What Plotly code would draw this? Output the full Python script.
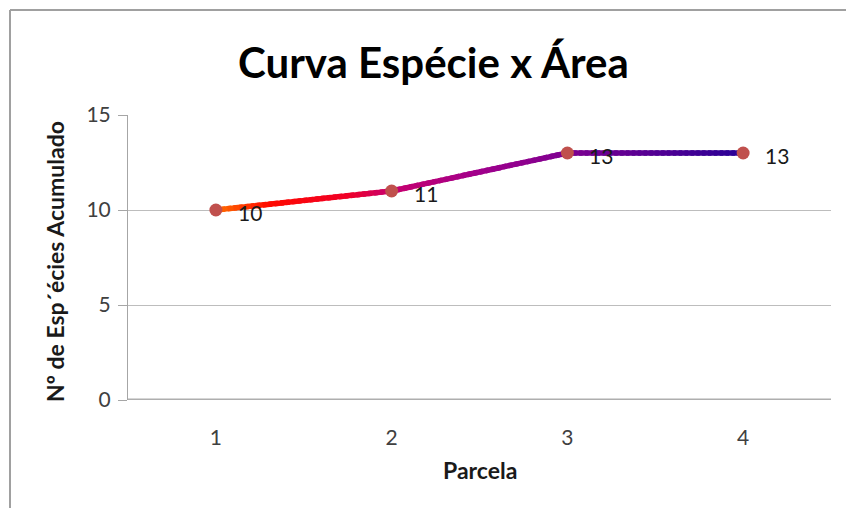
import plotly.graph_objects as go

# Species-area curve data
parcelas = [1, 2, 3, 4]
especies = [10, 11, 13, 13]
y_ticks = [0, 5, 10, 15]

title_text = "Curva Espécie x Área"
x_title = "Parcela"
y_title = "Nº de Esp´écies Acumulado"

# gradient stops along the line (fraction of total length -> colour)
grad_stops = [
    (0.00, (255, 112, 0)),
    (0.10, (255, 10, 0)),
    (0.25, (240, 0, 40)),
    (0.33, (200, 0, 110)),
    (0.50, (160, 0, 140)),
    (0.67, (125, 0, 145)),
    (1.00, (40, 0, 150)),
]


def grad_color(t):
    for (t0, c0), (t1, c1) in zip(grad_stops[:-1], grad_stops[1:]):
        if t0 <= t <= t1:
            f = (t - t0) / (t1 - t0) if t1 > t0 else 0
            r, g, b = (round(a + (b_ - a) * f) for a, b_ in zip(c0, c1))
            return f"rgb({r},{g},{b})"
    r, g, b = grad_stops[-1][1]
    return f"rgb({r},{g},{b})"


W, H = 846, 508
ML, MR, MT, MB = 128, 15, 115, 108
PW, PH = W - ML - MR, H - MT - MB

FONT = "Lato"

fig = go.Figure()

# line drawn as short overlapping pieces so the colour can shift along it
pieces = 30
x0, x1 = parcelas[0], parcelas[-1]
for i in range(len(parcelas) - 1):
    xa, xb = parcelas[i], parcelas[i + 1]
    ya, yb = especies[i], especies[i + 1]
    for k in range(pieces):
        fa, fb = k / pieces, min(1.0, (k + 1.6) / pieces)
        xs = [xa + (xb - xa) * fa, xa + (xb - xa) * fb]
        ys = [ya + (yb - ya) * fa, ya + (yb - ya) * fb]
        t = ((xa + (xb - xa) * (k + 0.5) / pieces) - x0) / (x1 - x0)
        fig.add_trace(go.Scatter(
            x=xs, y=ys, mode="lines",
            line=dict(color=grad_color(t), width=5.5),
            hoverinfo="skip", showlegend=False,
        ))

fig.add_trace(go.Scatter(
    x=parcelas, y=especies, mode="markers",
    marker=dict(color="#C0504D", size=13),
    showlegend=False,
))

# data labels to the right of each point
for xv, yv in zip(parcelas, especies):
    fig.add_annotation(
        x=xv, y=yv, text=str(yv), showarrow=False,
        xanchor="left", yanchor="middle", xshift=20, yshift=-2,
        font=dict(family=FONT, size=21, color="#1a1a1a"),
    )

tick_font = dict(family=FONT, size=21, color="#404040")

fig.update_xaxes(
    range=[0.5, 4.5], tickvals=parcelas, ticktext=[str(p) for p in parcelas],
    showgrid=False, zeroline=False, showline=False, ticks="",
    tickfont=tick_font, ticklabelstandoff=23,
)
fig.update_yaxes(
    range=[0, 15], tickvals=y_ticks, ticktext=[str(v) for v in y_ticks],
    showgrid=True, gridcolor="#BDBDBD", gridwidth=1,
    zeroline=False, showline=True, linecolor="#A6A6A6", linewidth=1,
    ticks="outside", ticklen=9, tickcolor="#A6A6A6",
    tickfont=tick_font, ticklabelstandoff=3,
)

# baseline at zero
fig.add_shape(type="line", xref="paper", yref="y", x0=0, x1=1, y0=0, y1=0,
              line=dict(color="#AEAEAE", width=3), layer="above")

# chart frame (top and left edges)
lx = (10 - ML) / PW
ty = 1 + (MT - 10) / PH
fig.add_shape(type="line", xref="paper", yref="paper",
              x0=lx, x1=(W - ML) / PW, y0=ty, y1=ty,
              line=dict(color="#A0A0A0", width=2))
fig.add_shape(type="line", xref="paper", yref="paper",
              x0=lx, x1=lx, y0=ty, y1=-MB / PH,
              line=dict(color="#A0A0A0", width=2))

# titles
fig.add_annotation(
    xref="paper", yref="paper", x=(433 - ML) / PW, y=1 + (MT - 62) / PH,
    text=f"<b>{title_text}</b>", showarrow=False,
    xanchor="center", yanchor="middle",
    font=dict(family=FONT, size=42, color="#000000"),
)
fig.add_annotation(
    xref="paper", yref="paper", x=(480 - ML) / PW, y=-(470 - MT - PH) / PH,
    text=f"<b>{x_title}</b>", showarrow=False,
    xanchor="center", yanchor="middle",
    font=dict(family=FONT, size=23, color="#1a1a1a"),
)
fig.add_annotation(
    xref="paper", yref="paper", x=(55 - ML) / PW, y=1 - (262 - MT) / PH,
    text=f"<b>{y_title}</b>", showarrow=False, textangle=-90,
    xanchor="center", yanchor="middle",
    font=dict(family=FONT, size=23, color="#1a1a1a"),
)

fig.update_layout(
    width=W, height=H,
    margin=dict(l=ML, r=MR, t=MT, b=MB),
    paper_bgcolor="white", plot_bgcolor="white",
    showlegend=False,
)

fig.write_html("out.html")
